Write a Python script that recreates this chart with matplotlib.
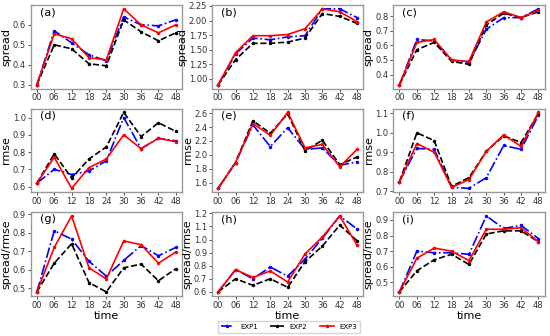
import matplotlib
matplotlib.use("Agg")
import matplotlib.pyplot as plt

times = ['00', '06', '12', '18', '24', '30', '36', '42', '48']

# (a)-(c) spread
a1 = [0.30, 0.57, 0.51, 0.45, 0.42, 0.64, 0.60, 0.595, 0.625]
a2 = [0.30, 0.50, 0.48, 0.405, 0.395, 0.625, 0.565, 0.52, 0.56]
a3 = [0.30, 0.555, 0.53, 0.435, 0.425, 0.68, 0.60, 0.56, 0.60]
b1 = [0.90, 1.43, 1.70, 1.67, 1.72, 1.74, 2.20, 2.20, 2.05]
b2 = [0.90, 1.33, 1.61, 1.61, 1.63, 1.70, 2.12, 2.07, 1.95]
b3 = [0.90, 1.45, 1.74, 1.74, 1.76, 1.86, 2.20, 2.15, 1.98]
c1 = [0.33, 0.64, 0.63, 0.50, 0.48, 0.71, 0.79, 0.79, 0.85]
c2 = [0.33, 0.57, 0.62, 0.49, 0.47, 0.74, 0.82, 0.79, 0.83]
c3 = [0.33, 0.62, 0.64, 0.50, 0.49, 0.76, 0.83, 0.79, 0.84]
# (d)-(f) rmse
d1 = [0.62, 0.70, 0.67, 0.69, 0.75, 1.00, 0.82, 0.88, 0.865]
d2 = [0.62, 0.79, 0.65, 0.76, 0.83, 1.03, 0.89, 0.97, 0.92]
d3 = [0.62, 0.77, 0.59, 0.71, 0.76, 0.90, 0.82, 0.88, 0.86]
e1 = [1.52, 1.89, 2.43, 2.12, 2.39, 2.08, 2.10, 1.85, 1.90]
e2 = [1.52, 1.89, 2.49, 2.31, 2.59, 2.06, 2.21, 1.86, 1.97]
e3 = [1.52, 1.89, 2.45, 2.28, 2.61, 2.10, 2.15, 1.83, 2.08]
f1 = [0.75, 0.92, 0.915, 0.72, 0.715, 0.77, 0.935, 0.915, 1.09]
f2 = [0.75, 1.00, 0.96, 0.725, 0.77, 0.905, 0.985, 0.95, 1.10]
f3 = [0.75, 0.945, 0.90, 0.72, 0.76, 0.905, 0.99, 0.93, 1.105]
# (g)-(i) spread/rmse
g1 = [0.48, 0.81, 0.765, 0.645, 0.565, 0.65, 0.73, 0.675, 0.72]
g2 = [0.48, 0.635, 0.74, 0.53, 0.48, 0.61, 0.63, 0.54, 0.605]
g3 = [0.48, 0.72, 0.89, 0.61, 0.55, 0.755, 0.735, 0.635, 0.695]
h1 = [0.60, 0.77, 0.70, 0.79, 0.72, 0.85, 1.01, 1.18, 1.08]
h2 = [0.60, 0.70, 0.65, 0.70, 0.635, 0.83, 0.95, 1.11, 0.99]
h3 = [0.60, 0.77, 0.71, 0.76, 0.675, 0.89, 1.02, 1.18, 0.955]
i1 = [0.44, 0.70, 0.69, 0.69, 0.68, 0.925, 0.845, 0.865, 0.78]
i2 = [0.44, 0.575, 0.645, 0.68, 0.615, 0.81, 0.83, 0.83, 0.76]
i3 = [0.44, 0.655, 0.72, 0.70, 0.64, 0.84, 0.84, 0.85, 0.76]

panels = [
    ('(a)', 'spread', a1, a2, a3, [0.3, 0.4, 0.5, 0.6], '%.1f'),
    ('(b)', 'spread', b1, b2, b3, [1.0, 1.25, 1.5, 1.75, 2.0, 2.25], '%.2f'),
    ('(c)', 'spread', c1, c2, c3, [0.4, 0.5, 0.6, 0.7, 0.8], '%.1f'),
    ('(d)', 'rmse', d1, d2, d3, [0.6, 0.7, 0.8, 0.9, 1.0], '%.1f'),
    ('(e)', 'rmse', e1, e2, e3, [1.6, 1.8, 2.0, 2.2, 2.4, 2.6], '%.1f'),
    ('(f)', 'rmse', f1, f2, f3, [0.7, 0.8, 0.9, 1.0, 1.1], '%.1f'),
    ('(g)', 'spread/rmse', g1, g2, g3, [0.5, 0.6, 0.7, 0.8, 0.9], '%.1f'),
    ('(h)', 'spread/rmse', h1, h2, h3, [0.6, 0.7, 0.8, 0.9, 1.0, 1.1, 1.2], '%.1f'),
    ('(i)', 'spread/rmse', i1, i2, i3, [0.5, 0.6, 0.7, 0.8, 0.9], '%.1f'),
]

fig, axes = plt.subplots(3, 3, figsize=(5.5, 3.36), dpi=100)
plt.subplots_adjust(left=0.056, right=0.99, top=0.985, bottom=0.12,
                    wspace=0.2, hspace=0.24)

x = range(len(times))
for ax, (tag, ylab, s1, s2, s3, yt, fmt) in zip(axes.flat, panels):
    ax.plot(x, s1, color='blue', ls='-.', marker='.', ms=3, lw=1.2, label='EXP1')
    ax.plot(x, s2, color='black', ls='--', marker='.', ms=3, lw=1.2, label='EXP2')
    ax.plot(x, s3, color='red', ls='-', marker='.', ms=3, lw=1.2, label='EXP3')
    ax.set_xticks(list(x))
    ax.set_xticklabels(times)
    ax.set_yticks(yt)
    ax.set_yticklabels([fmt % v for v in yt])
    ax.tick_params(labelsize=6, length=2, width=0.6, colors='#333333', pad=1.5)
    ax.set_ylabel(ylab, fontsize=8, labelpad=1)
    ax.set_xlim(-0.35, 8.35)
    ax.text(0.06, 0.88, tag, transform=ax.transAxes, fontsize=8)
    for sp in ax.spines.values():
        sp.set_color('#999999')
        sp.set_linewidth(1.0)

for ax in axes[2]:
    ax.set_xlabel('time', fontsize=8, labelpad=1)

h, l = axes[0, 0].get_legend_handles_labels()
fig.legend(h, l, loc='lower center', ncol=3, fontsize=5, frameon=True,
           bbox_to_anchor=(0.525, 0.0), handlelength=2.0, columnspacing=1.8,
           edgecolor='#cccccc', fancybox=False)

plt.savefig('out.png', dpi=100)
